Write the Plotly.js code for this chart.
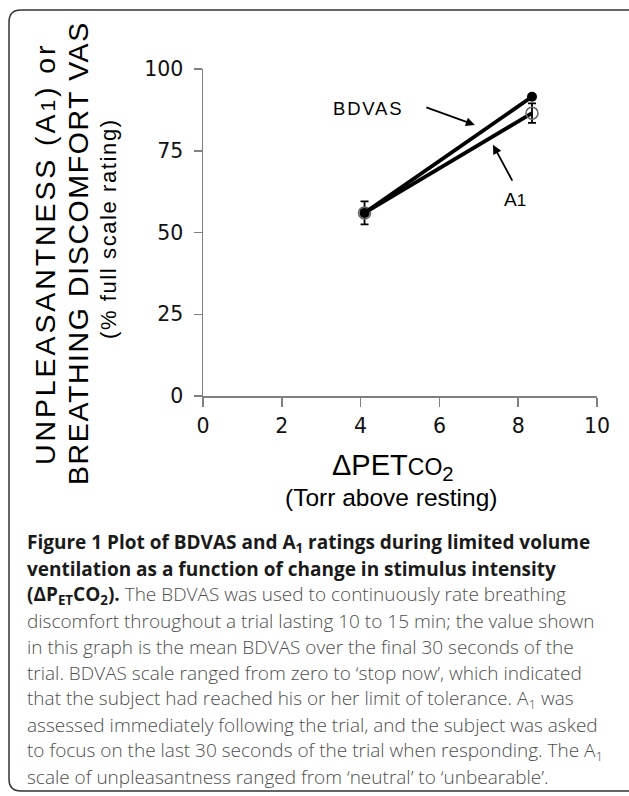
<!DOCTYPE html>
<html>
<head>
<meta charset="utf-8">
<script src="https://cdn.plot.ly/plotly-3.0.1.min.js"></script>
<style>
html,body{margin:0;padding:0;background:#fff;}
#chart{width:629px;height:796px;}
</style>
</head>
<body>
<div id="chart"></div>
<script>
// ---- data ----
const xValues = [4.1, 8.35];
const bdvas = [56, 91.5];
const a1 = [56, 86.5];
const a1Err = [3.5, 3];
const xTicks = [0, 2, 4, 6, 8, 10];
const yTicks = [0, 25, 50, 75, 100];
const seriesNames = ["BDVAS", "A1"];

// layout helpers (pixel -> paper), plot area 203..597 x 69..396
const L = 203, R = 597, T = 69, B = 396;
const px = x => (x - L) / (R - L);
const py = y => (B - y) / (B - T);

const traces = [
  {
    x: xValues, y: a1, name: seriesNames[1], type: "scatter", mode: "lines+markers",
    line: {color: "#000", width: 3.8},
    marker: {symbol: "circle-open", size: 12, color: "#666", line: {width: 1.5, color: "#666"}},
    error_y: {type: "data", array: a1Err, visible: true, color: "#000", thickness: 1.8, width: 4}
  },
  {
    x: xValues, y: bdvas, name: seriesNames[0], type: "scatter", mode: "lines+markers",
    line: {color: "#000", width: 3.8},
    marker: {symbol: "circle", size: 10, color: "#000"}
  }
];

const capX = px(25);
const capY0 = 543, capDy = 26;
const capNormal = "#4d4d4d", capBold = "#1a1a1a";
const capFont = "Open Sans";
const capLines = [
  `<b>Figure 1 Plot of BDVAS and A<sub>1</sub> ratings during limited volume</b>`,
  `<b>ventilation as a function of change in stimulus intensity</b>`,
  `<span style="color:${capBold};font-size:19px;font-weight:700"><b>(ΔP<sub>ET</sub>CO<sub>2</sub>).</b></span> The BDVAS was used to continuously rate breathing`,
  `discomfort throughout a trial lasting 10 to 15 min; the value shown`,
  `in this graph is the mean BDVAS over the final 30 seconds of the`,
  `trial. BDVAS scale ranged from zero to ‘stop now’, which indicated`,
  `that the subject had reached his or her limit of tolerance. A<sub>1</sub> was`,
  `assessed immediately following the trial, and the subject was asked`,
  `to focus on the last 30 seconds of the trial when responding. The A<sub>1</sub>`,
  `scale of unpleasantness ranged from ‘neutral’ to ‘unbearable’.`
];

const annotations = [];
capLines.forEach((t, i) => {
  annotations.push({
    xref: "paper", yref: "paper", x: capX, y: py(capY0 + capDy * i),
    xanchor: "left", yanchor: "middle", showarrow: false, align: "left",
    text: t,
    font: {family: capFont, size: i < 2 ? 19 : 19, color: i < 2 ? capBold : capNormal,
           weight: i < 2 ? 700 : 300}
  });
});

const arial = "Liberation Sans, Arial";
// y-axis title block (3 rotated lines)
annotations.push(
  {xref: "paper", yref: "paper", x: px(45), y: py(254), xanchor: "center", yanchor: "middle",
   showarrow: false, textangle: -90,
   text: "<span style='letter-spacing:2.9px'>UNPLEASANTNESS (A<span style='font-size:21px'>1</span>) or</span>",
   font: {family: arial, size: 28.5, color: "#000"}},
  {xref: "paper", yref: "paper", x: px(78), y: py(253), xanchor: "center", yanchor: "middle",
   showarrow: false, textangle: -90,
   text: "<span style='letter-spacing:1.6px'>BREATHING DISCOMFORT VAS</span>",
   font: {family: arial, size: 28.5, color: "#000"}},
  {xref: "paper", yref: "paper", x: px(108), y: py(229), xanchor: "center", yanchor: "middle",
   showarrow: false, textangle: -90,
   text: "<span style='letter-spacing:1.6px'>(% full scale rating)</span>",
   font: {family: arial, size: 22, color: "#000"}}
);

// x-axis title block
annotations.push(
  {xref: "paper", yref: "paper", x: px(393), y: py(467), xanchor: "center", yanchor: "middle",
   showarrow: false,
   text: "ΔPET<span style='font-size:23px'>CO</span><sub>2</sub>",
   font: {family: arial, size: 29, color: "#000"}},
  {xref: "paper", yref: "paper", x: px(391), y: py(498), xanchor: "center", yanchor: "middle",
   showarrow: false,
   text: "(Torr above resting)",
   font: {family: arial, size: 24.5, color: "#000"}}
);

// series labels with arrows
annotations.push(
  {xref: "x", yref: "y", x: 4.2, y: 88, showarrow: false,
   text: "<span style='letter-spacing:1.8px'>" + seriesNames[0] + "</span>",
   font: {family: arial, size: 18.5, color: "#000"}},
  {xref: "x", yref: "y", x: 6.9, y: 82.9, axref: "x", ayref: "y", ax: 5.63, ay: 88.4,
   showarrow: true, arrowhead: 2, arrowsize: 1, arrowwidth: 1.8, arrowcolor: "#000", text: ""},
  {xref: "x", yref: "y", x: 7.92, y: 60, showarrow: false,
   text: "A<span style='font-size:17px'>1</span>",
   font: {family: arial, size: 19, color: "#000"}},
  {xref: "x", yref: "y", x: 7.36, y: 76.8, axref: "x", ayref: "y", ax: 7.87, ay: 65.4,
   showarrow: true, arrowhead: 2, arrowsize: 1, arrowwidth: 1.8, arrowcolor: "#000", text: ""}
);

// rounded border (paper coords from pixels)
const bx0 = 9, by0 = 10, bx1 = 645, by1 = 791, r = 12;
const P = (x, y) => `${px(x)},${py(y)}`;
const borderPath =
  `M ${P(bx1, by0)} L ${P(bx0 + r, by0)} Q ${P(bx0, by0)} ${P(bx0, by0 + r)} ` +
  `L ${P(bx0, by1 - r)} Q ${P(bx0, by1)} ${P(bx0 + r, by1)} L ${P(bx1, by1)}`;

const layout = {
  width: 629, height: 796,
  margin: {l: L, r: 629 - R, t: T, b: 796 - B, pad: 0},
  paper_bgcolor: "#fff", plot_bgcolor: "#fff",
  showlegend: false,
  xaxis: {
    range: [0, 10], tickvals: xTicks, ticktext: xTicks.map(String),
    showgrid: false, zeroline: false, showline: true, linecolor: "#808080", linewidth: 1.5,
    ticks: "outside", ticklen: 9, tickwidth: 1.5, tickcolor: "#808080",
    ticklabelstandoff: 2,
    tickfont: {family: "DejaVu Sans", size: 20.5, color: "#111"}, fixedrange: true
  },
  yaxis: {
    range: [0, 100], tickvals: yTicks, ticktext: yTicks.map(String),
    showgrid: false, zeroline: false, showline: true, linecolor: "#808080", linewidth: 1.5,
    ticks: "outside", ticklen: 8, tickwidth: 1.5, tickcolor: "#808080",
    ticklabelstandoff: 6,
    tickfont: {family: "DejaVu Sans", size: 20.5, color: "#111"}, fixedrange: true
  },
  annotations: annotations,
  shapes: [{type: "path", xref: "paper", yref: "paper", path: borderPath,
            line: {color: "#333", width: 1.5}, layer: "below"}]
};

Plotly.newPlot("chart", traces, layout, {displayModeBar: false, staticPlot: true});
</script>
</body>
</html>
